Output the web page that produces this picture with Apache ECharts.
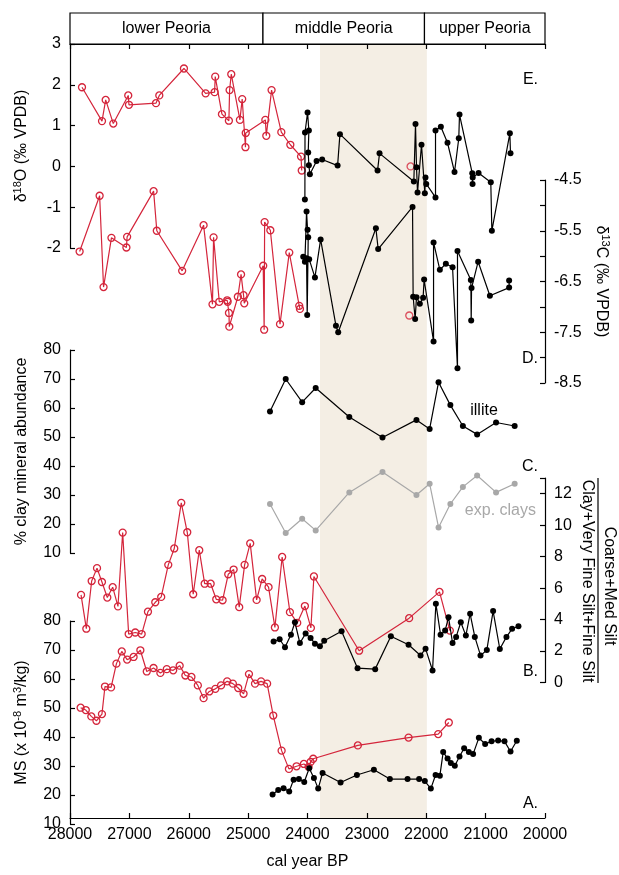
<!DOCTYPE html>
<html><head><meta charset="utf-8">
<script src="https://cdn.jsdelivr.net/npm/echarts/dist/echarts.min.js"></script>
<style>html,body{margin:0;padding:0;background:#fff}#c{width:619px;height:875px}</style>
</head><body><div id="c"></div>
<script>
const RED = '#d4253b', BLACK = '#000', GRAY = '#a8a8a8', BAND = '#f4eee4';
const FONT = '"Liberation Sans", Arial, sans-serif';

const yearMin = 20000, yearMax = 28000, yearStep = 1000;
const headerNames = ['lower Peoria', 'middle Peoria', 'upper Peoria'];
const headerBounds = [28000, 24750, 22030, 20000];
const middleBand = [23790, 21990];

// E. delta 18O
const d18O_red = [[27798,1.94],[27461,1.11],[27399,1.63],[27271,1.05],[27019,1.74],[27007,1.51],[26552,1.55],[26496,1.74],[26081,2.40],[25716,1.79],[25565,1.82],[25554,2.20],[25441,1.28],[25324,1.12],[25312,1.87],[25284,2.26],[25138,1.14],[25100,1.65],[25045,0.47],[25040,0.82],[24710,1.14],[24694,0.75],[24605,1.87],[24441,0.84],[24289,0.53],[24109,0.24],[24097,-0.10]];
const d18O_redLone = [[22264,0.0]];
const d18O_black = [[24044,-0.81],[24042,0.83],[23999,1.32],[23977,0.88],[23988,0.34],[23977,0.03],[23960,-0.19],[23847,0.13],[23753,0.17],[23493,0.02],[23454,0.79],[22820,-0.10],[22787,0.32],[22209,-0.37],[22181,1.04],[22164,-0.02],[22147,-0.64],[22080,0.53],[22024,-0.66],[22013,-0.27],[22000,-0.43],[21844,-0.76],[21844,0.88],[21754,0.97],[21642,0.58],[21524,-0.14],[21452,0.69],[21440,1.27],[21225,-0.17],[21220,-0.43],[21218,-0.27],[21119,-0.16],[20913,-0.39],[20895,-1.58],[20592,0.81],[20581,0.32]];

// D. delta 13C
const d13C_red = [[27838,-5.91],[27501,-4.81],[27435,-6.61],[27302,-5.64],[27050,-5.83],[27038,-5.62],[26592,-4.72],[26538,-5.50],[26111,-6.29],[25750,-5.39],[25600,-6.95],[25582,-5.63],[25486,-6.90],[25353,-6.87],[25345,-6.90],[25323,-7.12],[25317,-7.39],[25173,-6.80],[25119,-6.36],[25077,-6.77],[25065,-6.93],[24746,-6.19],[24730,-7.45],[24722,-5.33],[24626,-5.49],[24463,-7.34],[24307,-5.93],[24139,-6.98],[24127,-7.04]];
const d13C_redLone = [[22286,-7.17]];
const d13C_black = [[24072,-6.01],[24044,-6.11],[24016,-5.12],[23999,-5.48],[23988,-5.63],[24005,-7.16],[24016,-6.04],[23972,-6.06],[23875,-6.42],[23779,-5.67],[23521,-7.37],[23483,-7.50],[22848,-5.45],[22810,-5.86],[22231,-5.03],[22221,-6.80],[22187,-7.24],[22164,-6.81],[22108,-6.94],[22053,-6.82],[22036,-6.46],[21877,-7.68],[21877,-5.73],[21771,-6.27],[21670,-6.15],[21557,-6.22],[21474,-8.21],[21474,-5.90],[21249,-6.47],[21243,-7.27],[21237,-6.63],[21126,-6.11],[20928,-6.78],[20604,-6.62],[20604,-6.48]];

// C. clay minerals
const illite = [[24632,58.8],[24367,70.0],[24090,62.0],[23862,66.9],[23296,56.9],[22737,49.8],[22165,55.9],[21943,52.8],[21793,68.9],[21594,61.0],[21383,53.8],[21143,50.9],[20824,55.0],[20511,53.8]];
const expClays = [[24632,26.9],[24367,16.9],[24090,21.8],[23862,17.8],[23296,30.9],[22737,37.9],[22165,30.0],[21943,33.9],[21793,18.8],[21594,26.9],[21383,32.8],[21143,36.7],[20824,30.9],[20511,33.9]];

// B. silt ratio
const silt_red = [[27814,5.57],[27725,3.42],[27635,6.45],[27545,7.27],[27462,6.39],[27372,5.40],[27281,6.06],[27192,4.84],[27113,9.53],[27012,3.08],[26901,3.18],[26793,3.08],[26687,4.50],[26564,5.10],[26464,5.44],[26345,7.48],[26244,8.52],[26126,11.42],[26025,9.55],[25925,5.61],[25823,8.41],[25732,6.28],[25631,6.28],[25537,5.29],[25430,5.23],[25335,6.88],[25244,7.18],[25150,4.79],[25059,7.48],[24965,8.84],[24857,5.25],[24764,6.58],[24656,6.06],[24549,3.50],[24427,7.98],[24296,4.47],[24173,3.79],[24044,4.86],[23943,3.47],[23892,6.74],[23130,2.02],[22288,4.09],[21777,5.76],[21603,3.30]];
const silt_black = [[24571,2.60],[24469,2.75],[24379,2.24],[24279,3.04],[24212,3.83],[24128,2.51],[24032,3.11],[23948,2.83],[23875,2.47],[23791,2.30],[23719,2.66],[23426,3.26],[23157,0.91],[22860,0.85],[22596,2.94],[22298,2.40],[22096,1.72],[22012,2.15],[21894,0.76],[21838,5.01],[21759,3.04],[21682,3.30],[21625,4.15],[21557,2.51],[21497,2.90],[21418,3.83],[21333,2.98],[21261,4.37],[21182,2.90],[21086,1.72],[20980,2.06],[20874,4.54],[20761,2.13],[20649,2.90],[20554,3.41],[20447,3.58]];

// A. magnetic susceptibility
const ms_red = [[27821,50.1],[27734,49.3],[27641,47.1],[27555,45.6],[27462,47.9],[27411,57.4],[27308,57.1],[27218,65.3],[27128,69.5],[27038,66.7],[26929,67.6],[26815,69.9],[26707,62.6],[26593,63.8],[26478,62.1],[26370,63.4],[26262,63.0],[26153,64.6],[26057,61.2],[25955,60.7],[25847,57.8],[25750,53.4],[25654,55.7],[25552,56.6],[25456,57.8],[25353,59.2],[25257,58.4],[25167,56.9],[25077,54.9],[24986,61.7],[24884,58.4],[24782,59.2],[24680,58.4],[24577,47.4],[24436,35.3],[24313,29.0],[24184,29.9],[24061,30.7],[23982,29.7],[23948,31.4],[23904,32.5],[23152,37.1],[22298,39.8],[21799,41.0],[21620,45.0]];
const ms_black = [[24588,20.2],[24493,21.7],[24403,22.3],[24308,21.2],[24234,25.3],[24145,25.5],[24055,24.5],[23971,29.2],[23892,25.9],[23820,22.2],[23746,27.6],[23443,24.3],[23168,26.9],[22882,28.7],[22613,25.5],[22315,25.5],[22120,25.5],[22024,24.8],[21923,22.2],[21843,26.9],[21771,26.6],[21715,34.8],[21641,32.6],[21586,31.0],[21519,30.1],[21440,33.3],[21362,36.1],[21283,34.8],[21211,34.1],[21114,39.7],[21008,37.6],[20900,38.5],[20789,38.8],[20682,38.5],[20581,35.0],[20475,38.7]];

const L = 70, R = 74;
const grids = [
  {left:L, right:R, top:44, height:780},
  {left:L, right:R, top:13, height:31},
  {left:L, right:R, top:44, height:204},
  {left:L, right:R, top:180, height:203},
  {left:L, right:R, top:350, height:203},
  {left:L, right:R, top:478, height:204.5},
  {left:L, right:R, top:621, height:203}
];
const lineSty = {color:'#000', width:1.2};
const baseX = {type:'value', min:yearMin, max:yearMax, interval:yearStep, inverse:true, splitLine:{show:false}};
const xAxes = [
  Object.assign({}, baseX, {gridIndex:0, position:'bottom', z:10,
    axisLine:{lineStyle:lineSty}, axisTick:{inside:true, length:5, lineStyle:lineSty},
    axisLabel:{fontSize:16, color:'#000', margin:9, fontFamily:FONT, formatter: v => String(v)},
    name:'cal year BP', nameLocation:'middle', nameGap:36,
    nameTextStyle:{fontSize:16, color:'#000', fontFamily:FONT}}),
  Object.assign({}, baseX, {gridIndex:0, position:'top', z:10,
    axisLine:{lineStyle:lineSty}, axisTick:{inside:true, length:5, lineStyle:lineSty}, axisLabel:{show:false}}),
  Object.assign({}, baseX, {gridIndex:1, show:false}),
  Object.assign({}, baseX, {gridIndex:2, show:false}),
  Object.assign({}, baseX, {gridIndex:3, show:false}),
  Object.assign({}, baseX, {gridIndex:4, show:false}),
  Object.assign({}, baseX, {gridIndex:5, show:false}),
  Object.assign({}, baseX, {gridIndex:6, show:false})
];
const rich = {
  n:{fontSize:16, fontFamily:FONT, color:'#000', lineHeight:20},
  s:{fontSize:11, fontFamily:FONT, color:'#000', lineHeight:10, verticalAlign:'top'}
};
function yAx(grid, pos, min, max, interval, name, rot, gap, fmt) {
  return {type:'value', gridIndex:grid, position:pos, min:min, max:max, interval:interval, z:10,
    splitLine:{show:false}, axisLine:{show:true, lineStyle:lineSty},
    axisTick:{show:true, inside:true, length:5, lineStyle:lineSty},
    axisLabel:{fontSize:16, color:'#000', margin:9, fontFamily:FONT, formatter:fmt || (v => String(v))},
    name:name, nameLocation:'middle', nameRotate:rot, nameGap:gap,
    nameTextStyle:{fontSize:16, color:'#000', fontFamily:FONT, rich:rich}};
}
const yAxes = [
  {type:'value', gridIndex:0, min:0, max:1, show:false},
  {type:'value', gridIndex:1, min:0, max:1, show:false},
  yAx(2, 'left', -2, 3, 1, '{n|δ}{s|18}{n|O (‰ VPDB)}', 90, 38),
  yAx(3, 'right', -8.5, -4.5, 0.5, '{n|δ}{s|13}{n|C (‰ VPDB)}', -90, 46,
      v => (Math.round(v * 2) % 2 !== 0) ? v.toFixed(1) : ''),
  yAx(4, 'left', 10, 80, 10, '{n|% clay mineral abundance}', 90, 38),
  yAx(5, 'right', 0, 13, 2, '', -90, 40, v => v <= 12 ? String(v) : ''),
  yAx(6, 'left', 10, 80, 10, '{n|MS (x 10}{s|-8}{n| m}{s|3}{n|/kg)}', 90, 38)
];
function openLine(data, ax, color) {
  return {type:'line', xAxisIndex:ax + 1, yAxisIndex:ax, data:data, symbol:'circle', symbolSize:7,
    lineStyle:{color:color, width:1.2}, itemStyle:{color:'rgba(255,255,255,0)', borderColor:color, borderWidth:1.3},
    emphasis:{disabled:true}, silent:true, z:3, clip:false};
}
function dotLine(data, ax, color) {
  return {type:'line', xAxisIndex:ax + 1, yAxisIndex:ax, data:data, symbol:'circle', symbolSize:6,
    lineStyle:{color:color, width:1.2}, itemStyle:{color:color, borderWidth:0},
    emphasis:{disabled:true}, silent:true, z:4, clip:false};
}
function openDots(data, ax, color) {
  return {type:'scatter', xAxisIndex:ax + 1, yAxisIndex:ax, data:data, symbol:'circle', symbolSize:7,
    itemStyle:{color:'rgba(255,255,255,0)', borderColor:color, borderWidth:1.3}, silent:true, z:3};
}
const series = [
  {type:'line', xAxisIndex:0, yAxisIndex:0, data:[[24000,0.5]], symbol:'none', lineStyle:{opacity:0}, silent:true, z:1,
    markArea:{silent:true, itemStyle:{color:BAND}, data:[[{xAxis:middleBand[0]},{xAxis:middleBand[1]}]]}},
  {type:'line', xAxisIndex:2, yAxisIndex:1, data:[[24000,0.5]], symbol:'none', lineStyle:{opacity:0}, silent:true, z:5,
    markArea:{silent:true, itemStyle:{color:'#fff', borderColor:'#000', borderWidth:1.2},
      label:{show:true, position:'inside', fontSize:16, color:'#000', fontFamily:FONT},
      data: headerNames.map((n, i) => [{name:n, xAxis:headerBounds[i]}, {xAxis:headerBounds[i + 1]}])}},
  openLine(d18O_red, 2, RED), openDots(d18O_redLone, 2, RED), dotLine(d18O_black, 2, BLACK),
  openLine(d13C_red, 3, RED), openDots(d13C_redLone, 3, RED), dotLine(d13C_black, 3, BLACK),
  dotLine(illite, 4, BLACK), dotLine(expClays, 4, GRAY),
  openLine(silt_red, 5, RED), dotLine(silt_black, 5, BLACK),
  openLine(ms_red, 6, RED), dotLine(ms_black, 6, BLACK)
];
const tfont = '16px ' + FONT;
const graphic = [
  {type:'text', x:538, y:80, style:{text:'E.', font:tfont, fill:'#000', align:'right', verticalAlign:'middle'}},
  {type:'text', x:538, y:359, style:{text:'D.', font:tfont, fill:'#000', align:'right', verticalAlign:'middle'}},
  {type:'text', x:538, y:467, style:{text:'C.', font:tfont, fill:'#000', align:'right', verticalAlign:'middle'}},
  {type:'text', x:538, y:672, style:{text:'B.', font:tfont, fill:'#000', align:'right', verticalAlign:'middle'}},
  {type:'text', x:538, y:804, style:{text:'A.', font:tfont, fill:'#000', align:'right', verticalAlign:'middle'}},
  {type:'text', x:484, y:411, style:{text:'illite', font:tfont, fill:'#000', align:'center', verticalAlign:'middle'}},
  {type:'text', x:536, y:511, style:{text:'exp. clays', font:tfont, fill:GRAY, align:'right', verticalAlign:'middle'}},
  {type:'text', x:609, y:586, rotation:-Math.PI/2, style:{text:'Coarse+Med Silt', font:tfont, fill:'#000', align:'center', verticalAlign:'middle'}},
  {type:'text', x:587, y:581, rotation:-Math.PI/2, style:{text:'Clay+Very Fine Silt+Fine Silt', font:tfont, fill:'#000', align:'center', verticalAlign:'middle'}},
  {type:'line', shape:{x1:598, y1:478, x2:598, y2:683}, style:{stroke:'#000', lineWidth:1.2}}
];
const chart = echarts.init(document.getElementById('c'), null, {renderer:'canvas'});
chart.setOption({animation:false, backgroundColor:'#fff', grid:grids, xAxis:xAxes, yAxis:yAxes, series:series, graphic:graphic});
</script></body></html>
